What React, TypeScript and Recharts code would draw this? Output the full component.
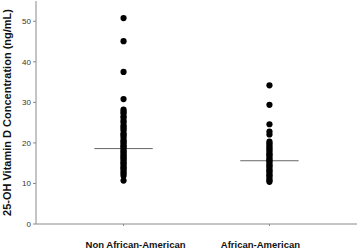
import React from "react";
import { ScatterChart, Scatter, XAxis, YAxis, ReferenceLine } from "recharts";

// group order on the x axis (1 = first column, 2 = second)
const groups = ["Non African-American", "African-American"];

// 25-OH vitamin D values, ng/mL
const nonAfricanAmerican = [
  50.8, 45.1, 37.5, 30.8, 28.2, 27.7, 27.3, 26.6, 26.2, 25.5, 25.1, 24.4, 24.0, 23.6,
  23.1, 22.4, 22.0, 21.7, 21.2, 20.6, 20.3, 19.9, 19.4, 19.1, 18.8, 18.3, 17.9, 17.6,
  17.1, 16.8, 16.4, 16.1, 15.7, 15.2, 14.9, 14.5, 14.0, 13.7, 13.3, 12.8, 12.4, 11.9, 10.7,
];
const africanAmerican = [
  34.2, 29.4, 24.6, 22.8, 22.1, 20.3, 19.9, 19.4, 18.9, 18.5, 18.1, 17.6, 17.2, 16.9,
  16.4, 16.0, 15.6, 15.3, 14.8, 14.4, 14.1, 13.6, 13.2, 12.9, 12.4, 12.0, 11.6, 11.1,
  10.7, 10.4,
];

// group means (horizontal bars)
const means = [18.6, 15.6];

const yTicks = [0, 10, 20, 30, 40, 50];

const AXIS = "#8a8a8a";
const FONT = "'Liberation Sans', Arial, sans-serif";

const toPoints = (values: number[], group: number) => values.map((v) => ({ x: group, y: v }));

const Dot = (props: any) => <circle cx={props.cx} cy={props.cy} r={3.1} fill="#000" />;

// the category labels in the source sit a bit off their ticks
const labelShift: Record<number, number> = { 1: 12, 2: -9 };

function GroupTick(props: any) {
  const { x, y, payload } = props;
  const idx = payload.value as number;
  return (
    <text
      x={x + (labelShift[idx] ?? 0)}
      y={y + 20}
      textAnchor="middle"
      fontFamily={FONT}
      fontWeight="bold"
      fontSize={9.5}
      fill="#111"
    >
      {groups[idx - 1]}
    </text>
  );
}

function YTitle(props: any) {
  const vb = props.viewBox || { x: 0, y: 0, width: 36, height: 223 };
  const cx = 7;
  const cy = vb.y + vb.height / 2;
  return (
    <text
      x={cx}
      y={cy}
      transform={`rotate(-90, ${cx}, ${cy})`}
      textAnchor="middle"
      dominantBaseline="central"
      fontFamily={FONT}
      fontWeight="bold"
      fontSize={11}
      fill="#111"
    >
      25-OH Vitamin D Concentration (ng/mL)
    </text>
  );
}

export default function App() {
  return (
    <div style={{ position: "absolute", left: 0, top: 0, background: "#fff" }}>
      <ScatterChart width={358} height={251} margin={{ top: 1, right: 1, left: 0, bottom: 0 }}>
        <XAxis
          type="number"
          dataKey="x"
          domain={[0.4, 2.6]}
          ticks={[1, 2]}
          height={27}
          tickSize={2}
          tickMargin={2}
          axisLine={{ stroke: AXIS }}
          tickLine={{ stroke: AXIS }}
          tick={<GroupTick />}
        />
        <YAxis
          type="number"
          dataKey="y"
          domain={[0, 55]}
          ticks={yTicks}
          width={36}
          tickSize={3}
          tickMargin={2}
          axisLine={{ stroke: AXIS }}
          tickLine={{ stroke: AXIS }}
          tick={{ fontSize: 8, fill: "#333", fontFamily: FONT }}
          label={<YTitle />}
        />
        {means.map((m, i) => (
          <ReferenceLine
            key={i}
            segment={[
              { x: i + 1 - 0.2, y: m },
              { x: i + 1 + 0.2, y: m },
            ]}
            stroke="#666"
            strokeWidth={1}
          />
        ))}
        <Scatter data={toPoints(nonAfricanAmerican, 1)} shape={<Dot />} isAnimationActive={false} />
        <Scatter data={toPoints(africanAmerican, 2)} shape={<Dot />} isAnimationActive={false} />
      </ScatterChart>
    </div>
  );
}
